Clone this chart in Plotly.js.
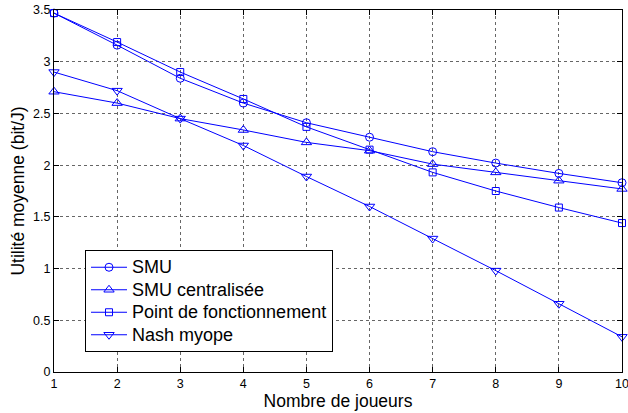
<!DOCTYPE html>
<html><head><meta charset="utf-8">
<script src="https://cdn.plot.ly/plotly-3.0.1.min.js"></script>
<style>html,body{margin:0;padding:0;background:#fff}#chart{width:628px;height:413px}</style>
</head><body><div id="chart"></div>
<script>
const joueurs = [1,2,3,4,5,6,7,8,9,10];
const smu = [3.47,3.16,2.84,2.60,2.41,2.27,2.13,2.02,1.92,1.83];
const smuCentralisee = [2.71,2.60,2.45,2.34,2.22,2.14,2.01,1.93,1.85,1.77];
const pointFonctionnement = [3.47,3.19,2.90,2.64,2.37,2.15,1.93,1.75,1.59,1.44];
const nashMyope = [2.90,2.72,2.45,2.19,1.89,1.60,1.29,0.98,0.66,0.34];
const seriesNames = ['SMU','SMU centralisée','Point de fonctionnement','Nash myope'];
const symbols = ['circle-open','triangle-up-open','square-open','triangle-down-open'];
const sizes = [8,9,7,9];
const allSeries = [smu, smuCentralisee, pointFonctionnement, nashMyope];

const traces = allSeries.map((ys,i)=>({
  x: joueurs, y: ys, name: '<span style="font-size:18px">' + seriesNames[i] + '</span>',
  type:'scatter', mode:'lines+markers',
  line:{color:'#0000ff', width:1},
  marker:{symbol:symbols[i], size:sizes[i], color:'#0000ff', line:{color:'#0000ff', width:1}},
  cliponaxis:false
}));

const axisCommon = {
  showline:true, mirror:'ticks', linecolor:'#000', linewidth:1,
  ticks:'inside', ticklen:5, tickcolor:'#000',
  showgrid:true, gridcolor:'#666', griddash:'dot', gridwidth:1,
  zeroline:false, ticklabeloverflow:'allow',
  tickfont:{family:'Liberation Sans, Arial', size:12.5, color:'#000'}
};

const layout = {
  width:628, height:413,
  margin:{l:54, r:6, t:10, b:41},
  paper_bgcolor:'#fff', plot_bgcolor:'#fff',
  font:{family:'Liberation Sans, Arial', color:'#000'},
  xaxis:Object.assign({}, axisCommon, {range:[1,10], tickvals:joueurs,
    title:{text:'Nombre de joueurs', font:{size:17.5}, standoff:3}}),
  yaxis:Object.assign({}, axisCommon, {range:[0,3.5], dtick:0.5,
    title:{text:'Utilité moyenne (bit/J)', font:{size:17.5}, standoff:3}}),
  legend:{x:0.0546, y:0.337, xanchor:'left', yanchor:'top', bordercolor:'#000', borderwidth:1,
    bgcolor:'#fff', font:{size:15}, tracegroupgap:0, itemwidth:36},
  showlegend:true
};
Plotly.newPlot('chart', traces, layout, {staticPlot:true, displayModeBar:false});
</script></body></html>
